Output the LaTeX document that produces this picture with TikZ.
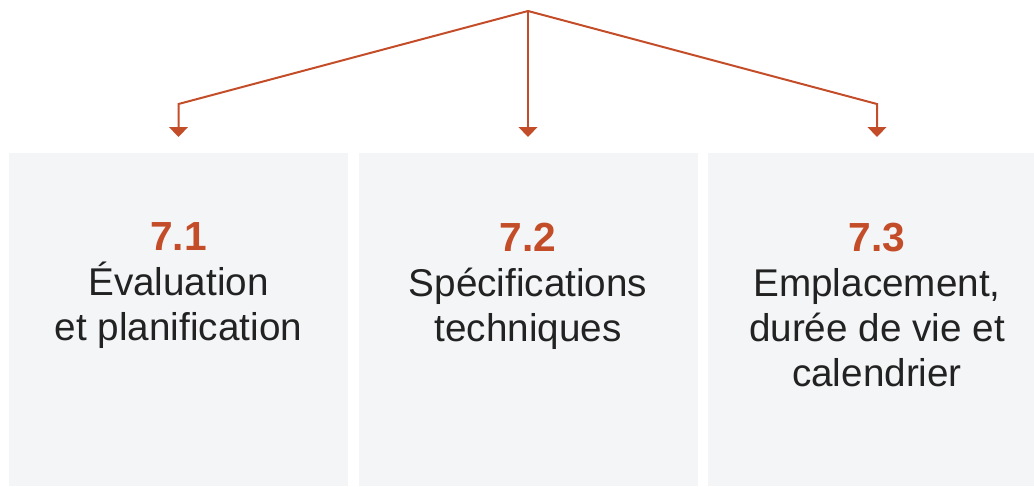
\documentclass[tikz,border=0pt]{standalone}
\usepackage{fontspec}
\setmainfont{Liberation Sans}
\usetikzlibrary{arrows.meta}
\definecolor{rust}{HTML}{C44D29}
\definecolor{panel}{HTML}{F4F5F7}
\definecolor{ink}{HTML}{222222}
\tikzset{
	panelbox/.style={fill=panel, minimum width=254.25pt, minimum height=249.75pt, anchor=north, inner sep=0pt},
	label/.style={anchor=north, align=center, text=ink, font=\fontsize{29}{33.75}\selectfont},
	branch/.style={draw=rust, line width=1.5pt, -{Triangle[width=14pt,length=7.5pt]}}
}
\newcommand{\secnum}[1]{{\color{rust}\fontsize{30.5}{33.75}\selectfont\bfseries #1}}

\begin{document}
\begin{tikzpicture}[x=0.75pt,y=-0.75pt]
		\useasboundingbox (0,0) rectangle (1034,486);
		
		\node (eval) [panelbox] at (178.5,153) {};
		\node (specs) [panelbox] at (528,153) {};
		\node (place) [panelbox] at (877,153) {};
		
		\node (evaltext) [label] at (178.5,218) {\secnum{7.1}\\Évaluation\\et planification};
		\node (specstext) [label] at (528,218) {\secnum{7.2}\\Spécifications\\techniques};
		\node (placetext) [label] at (877,218) {\secnum{7.3}\\Emplacement,\\durée de vie et\\calendrier};
		
		\coordinate (apex) at (528,11);
		\coordinate (leftbend) at (178.5,104);
		\coordinate (rightbend) at (877,104);
		\coordinate (evaltip) at (178.5,137);
		\coordinate (specstip) at (528,137);
		\coordinate (placetip) at (877,137);
		
		\draw[branch] (apex)--(leftbend)--(evaltip);
		\draw[branch] (apex)--(specstip);
		\draw[branch] (apex)--(rightbend)--(placetip);
	\end{tikzpicture}
\end{document}
